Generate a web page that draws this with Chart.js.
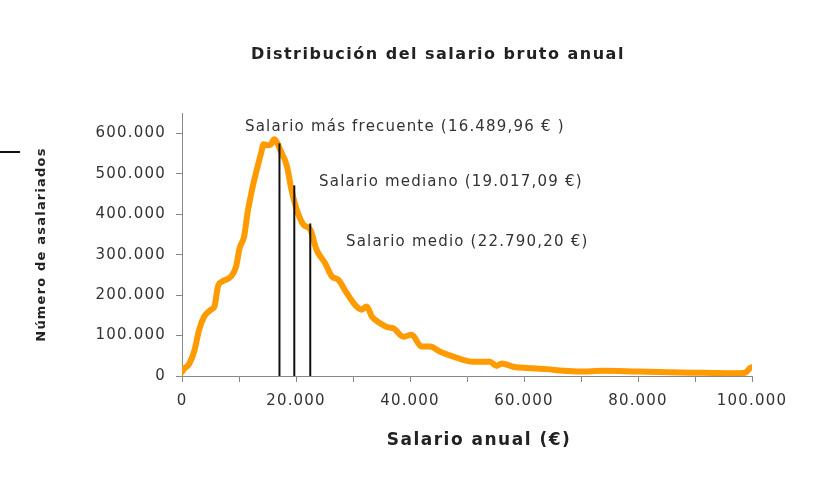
<!DOCTYPE html>
<html>
<head>
<meta charset="utf-8">
<script src="https://cdn.jsdelivr.net/npm/chart.js@4/dist/chart.umd.min.js"></script>
<style>
	html, body { margin: 0; padding: 0; background: #fff; }
	#wrap { width: 830px; height: 477px; }
</style>
</head>
<body>
<div id="wrap"><canvas id="grafico"></canvas></div>
<script>
// salario anual (€) y número de asalariados
var salario = [0, 200, 1300, 2200, 3000, 3900, 5100, 5700, 6300, 7100,
	8600, 9500, 10100, 10900, 11500, 12300, 13000, 13900, 14300, 15000,
	15600, 16200, 16800, 17200, 18400, 19200, 20100, 21300, 22500, 23600,
	25100, 26300, 27400, 28900, 30600, 31500, 32400, 33300, 34700, 36200,
	37100, 38800, 40300, 42000, 43500, 45300, 47600, 51100, 54000, 55200,
	56100, 58100, 61600, 64000, 66900, 69800, 73900, 79800, 85600, 91400,
	97300, 98800, 99600, 100000];
var asalariados = [10000, 15000, 31000, 64000, 114000, 147000, 164000, 172000, 221000, 234000,
	246000, 271000, 316000, 345000, 403000, 461000, 503000, 552000, 573000, 570000,
	573000, 585000, 573000, 560000, 519000, 461000, 412000, 374000, 362000, 312000,
	279000, 246000, 238000, 205000, 172000, 164000, 172000, 147000, 131000, 120000,
	118000, 97000, 102000, 73000, 73000, 60000, 48000, 35000, 35000, 25000,
	31000, 23000, 19000, 17000, 13000, 11000, 13000, 11000, 9000, 8000,
	7000, 8000, 19000, 22000];

// marcas de los ejes
var ticksY = [0, 100000, 200000, 300000, 400000, 500000, 600000];
var ticksX = [0, 10000, 20000, 30000, 40000, 50000, 60000, 70000, 80000, 90000, 100000];

// líneas verticales (moda, mediana, media)
var lineasX = [17100, 19700, 22500];
var lineasY = [575000, 471000, 377000];
var etiquetas = ["Salario más frecuente (16.489,96 € )", "Salario mediano (19.017,09 €)", "Salario medio (22.790,20 €)"];

var titulo = "Distribución del salario bruto anual";
var tituloX = "Salario anual (€)";
var tituloY = "Número de asalariados";

function puntos(n) {
	return String(n).replace(/\B(?=(\d{3})+(?!\d))/g, ".");
}

var curva = salario.map(function (s, i) { return { x: s, y: asalariados[i] }; });

var datasets = [];
lineasX.forEach(function (lx, i) {
	datasets.push({
		data: [{ x: lx, y: 0 }, { x: lx, y: lineasY[i] }],
		showLine: true,
		borderColor: "#111",
		borderWidth: 2,
		pointRadius: 0
	});
});
datasets.push({
	data: curva,
	showLine: true,
	borderColor: "#ff9a00",
	borderWidth: 6,
	borderJoinStyle: "round",
	borderCapStyle: "round",
	pointRadius: 0,
	cubicInterpolationMode: "monotone"
});

var espacio = "1.2px";

var textos = {
	id: "textos",
	beforeLayout: function (chart) { chart.ctx.letterSpacing = espacio; },
	beforeDraw: function (chart) { chart.ctx.letterSpacing = espacio; },
	afterDraw: function (chart) {
		var ctx = chart.ctx;
		var sx = chart.scales.x, sy = chart.scales.y;
		ctx.save();
		ctx.letterSpacing = "1.5px";
		ctx.fillStyle = "#222";
		ctx.textBaseline = "middle";
		ctx.textAlign = "center";
		ctx.font = "bold 16px 'DejaVu Sans'";
		ctx.fillText(titulo, 438, 55);

		// título del eje x
		ctx.font = "bold 17px 'DejaVu Sans'";
		ctx.fillText(tituloX, 479, 441);

		ctx.letterSpacing = espacio;
		ctx.fillStyle = "#333";
		ctx.textAlign = "left";
		ctx.font = "15px 'DejaVu Sans'";
		var pos = [[11050, 615000], [24040, 478000], [28770, 332000]];
		etiquetas.forEach(function (t, i) {
			ctx.fillText(t, sx.getPixelForValue(pos[i][0]), sy.getPixelForValue(pos[i][1]));
		});

		// trazo suelto a la izquierda
		ctx.strokeStyle = "#111";
		ctx.lineWidth = 2;
		ctx.beginPath();
		ctx.moveTo(0, 152);
		ctx.lineTo(20, 152);
		ctx.stroke();
		ctx.restore();
	}
};

new Chart(document.getElementById("grafico"), {
	type: "scatter",
	data: { datasets: datasets },
	plugins: [textos],
	options: {
		responsive: true,
		maintainAspectRatio: false,
		animation: false,
		events: [],
		layout: { padding: { top: 113, right: 78, left: 0, bottom: 0 } },
		plugins: {
			legend: { display: false },
			tooltip: { enabled: false },
			title: { display: false }
		},
		scales: {
			x: {
				type: "linear",
				min: 0,
				max: 100000,
				grid: { drawOnChartArea: false, color: "#888", tickLength: 6 },
				border: { color: "#888", width: 1 },
				ticks: {
					autoSkip: false,
					maxRotation: 0,
					padding: 10,
					color: "#333",
					font: { family: "'DejaVu Sans'", size: 15 },
					callback: function (v) { return v % 20000 === 0 ? puntos(v) : ""; }
				},
				afterBuildTicks: function (s) {
					s.ticks = ticksX.map(function (v) { return { value: v }; });
				},
				title: { display: false },
				afterFit: function (s) { s.height = 101; }
			},
			y: {
				min: 0,
				max: 650000,
				grid: { drawOnChartArea: false, color: "#888", tickLength: 6 },
				border: { color: "#888", width: 1 },
				ticks: {
					autoSkip: false,
					padding: 10,
					color: "#333",
					font: { family: "'DejaVu Sans'", size: 15 },
					callback: function (v) { return puntos(v); }
				},
				afterBuildTicks: function (s) {
					s.ticks = ticksY.map(function (v) { return { value: v }; });
				},
				title: {
					display: true,
					text: tituloY,
					color: "#222",
					font: { family: "'DejaVu Sans'", size: 13, weight: "bold" },
					padding: { top: 34, bottom: 0 }
				},
				afterFit: function (s) { s.width = 182; }
			}
		}
	}
});
</script>
</body>
</html>
